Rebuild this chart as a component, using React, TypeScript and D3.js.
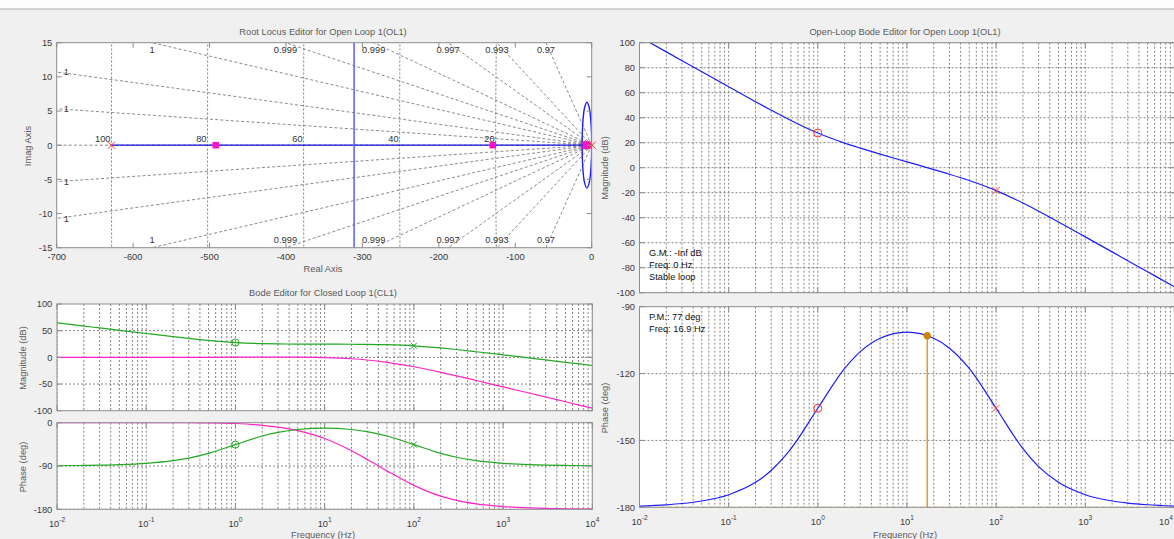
import React from "react";
import * as d3 from "d3";

// ---------- Bode data (frequency in Hz) ----------
const freqHz = [0.01, 0.02, 0.03, 0.05, 0.1, 0.2, 0.3, 0.5, 1, 2, 3, 5, 10, 20, 30, 50, 100, 200, 300, 500, 1000, 2000, 3000, 5000, 10000];

// open loop L(s)
const olMagDb = [104.7, 92.66, 85.62, 76.75, 64.74, 52.83, 45.99, 37.71, 27.71, 19.65, 15.62, 10.88, 4.7, -1.48, -5.2, -10.25, -18.31, -28.31, -34.84, -43.43, -55.34, -67.35, -74.39, -83.26, -95.3];
const olPhaseDeg = [-179.43, -178.87, -178.3, -177.17, -174.35, -168.8, -163.47, -153.72, -135.57, -117.72, -110.15, -104.17, -101.42, -104.17, -108.61, -117.72, -135.57, -153.72, -161.76, -168.8, -174.35, -177.17, -178.11, -178.86, -179.44];

// compensator C(s)
const compMagDb = [64.7, 58.68, 55.16, 50.73, 44.74, 38.85, 35.53, 31.69, 27.71, 25.67, 25.16, 24.86, 24.7, 24.54, 24.34, 23.73, 21.69, 17.71, 14.7, 10.55, 4.66, -1.33, -4.85, -9.28, -15.3];
const compPhaseDeg = [-89.43, -88.87, -88.3, -87.17, -84.35, -78.8, -73.47, -63.72, -45.57, -27.72, -20.15, -14.17, -11.42, -14.17, -18.61, -27.72, -45.57, -63.72, -71.76, -78.8, -84.35, -87.17, -88.11, -88.86, -89.44];

// closed loop T(s)
const clMagDb = [0, 0, 0, 0, 0.01, 0.02, 0.04, 0.1, 0.26, 0.39, 0.39, 0.26, -0.45, -2.61, -4.98, -9.32, -17.56, -28.01, -34.69, -43.37, -55.33, -67.35, -74.39, -83.26, -95.3];
const clPhaseDeg = [0, 0, 0, -0.01, -0.01, -0.03, -0.08, -0.33, -1.7, -5.53, -9.36, -16.57, -32.82, -58.3, -76.33, -100.1, -130.25, -152.7, -161.43, -168.7, -174.3, -177.15, -178.1, -178.86, -179.44];

// compensator zero / pole locations (Hz) and phase margin point
const compZeroHz = 1;
const compPoleHz = 100;
const pmFreqHz = 16.9;
const pmPhaseDeg = -103;

// ---------- Root locus data (rad/s) ----------
const olPoles = [-628.3, 0];
const olZeros = [-6.28];
const clPoles = [-491.9, -129.5, -6.69];
const asymptoteCenter = -310.9;
const realAxisBranch = [-628.3, -6.28];
const locusLoop: [number, number][] = [
  [0, 0], [-0.84, 3.14], [-3.14, 5.44], [-6.28, 6.28], [-9.42, 5.44], [-11.72, 3.14],
  [-12.56, 0], [-11.72, -3.14], [-9.42, -5.44], [-6.28, -6.28], [-3.14, -5.44], [-0.84, -3.14],
];
const dampingRatios = [0.999971, 0.999883, 0.99966, 0.9993, 0.99862, 0.99683, 0.99276, 0.97];
const natFreqHz = [20, 40, 60, 80, 100];

const rlXTicks = [-700, -600, -500, -400, -300, -200, -100, 0];
const rlYTicks = [15, 10, 5, 0, -5, -10, -15];
const clMagTicks = [100, 50, 0, -50, -100];
const clPhaseTicks = [0, -90, -180];
const olMagTicks = [100, 80, 60, 40, 20, 0, -20, -40, -60, -80, -100];
const olPhaseTicks = [-90, -120, -150, -180];
const decadeExps = [-2, -1, 0, 1, 2, 3, 4];

// ---------- styles ----------
const FONT = "'Liberation Sans', Arial, Helvetica, sans-serif";
const FS = 9.3;
const FRAME = "#8c8c8c";
const TICK_TXT = "#3a3a3a";
const LABEL_TXT = "#5a5a5a";
const GRID_STROKE = "#666666";
const BLUE = "#1c1cff";
const GREEN = "#22a822";
const MAGENTA = "#ff22cc";
const RED = "#ff3030";
const ORANGE = "#cc8400";
const W = 1174;

// ---------- scales ----------
const xRL = d3.scaleLinear().domain([-700, 0]).range([56.7, 591.7]);
const yRL = d3.scaleLinear().domain([-15, 15]).range([247.7, 42.7]);

const xBL = d3.scaleLog().domain([1e-2, 1e4]).range([57, 592.3]);
const yBLm = d3.scaleLinear().domain([-100, 100]).range([410.7, 304]);
const yBLp = d3.scaleLinear().domain([-180, 0]).range([509.3, 422.7]);

const xR = d3.scaleLog().domain([1e-2, 1e4]).range([639.5, 1174.4]);
const yRm = d3.scaleLinear().domain([-100, 100]).range([292.7, 42.7]);
const yRp = d3.scaleLinear().domain([-180, -90]).range([507.3, 306.7]);

function logGridValues(): number[] {
  const out: number[] = [];
  for (let e = -2; e < 4; e++) for (let k = 1; k < 10; k++) out.push(k * Math.pow(10, e));
  out.push(1e4);
  return out;
}
const logGrid = logGridValues();

type Lin = d3.ScaleLinear<number, number>;
type Log = d3.ScaleLogarithmic<number, number>;

function bodePath(x: Log, y: Lin, vals: number[]) {
  return (
    d3
      .line<number>()
      .x((_, i) => x(freqHz[i]))
      .y((v) => y(v))
      .curve(d3.curveMonotoneX)(vals) || ""
  );
}

function Panel({ id, x, y, children }: { id: string; x: any; y: Lin; children?: React.ReactNode }) {
  const [x0, x1] = x.range();
  const [yb, yt] = y.range();
  return (
    <g>
      <defs>
        <clipPath id={id}>
          <rect x={x0} y={yt} width={x1 - x0} height={yb - yt} />
        </clipPath>
      </defs>
      <rect x={x0} y={yt} width={x1 - x0} height={yb - yt} fill="#ffffff" />
      <g clipPath={`url(#${id})`}>{children}</g>
      <rect x={x0} y={yt} width={x1 - x0} height={yb - yt} fill="none" stroke={FRAME} strokeWidth={1} />
    </g>
  );
}

function LogGrid({ x, y, yGrid }: { x: Log; y: Lin; yGrid: number[] }) {
  const [x0, x1] = x.range();
  const [yb, yt] = y.range();
  return (
    <g stroke={GRID_STROKE} strokeWidth={0.8} strokeDasharray="2,2" fill="none">
      {logGrid.map((f, i) => (
        <line key={"v" + i} x1={x(f)} x2={x(f)} y1={yt} y2={yb} />
      ))}
      {yGrid.map((v, i) => (
        <line key={"h" + i} x1={x0} x2={x1} y1={y(v)} y2={y(v)} />
      ))}
    </g>
  );
}

function LogTicks({ x, y, yTicks }: { x: Log; y: Lin; yTicks: number[] }) {
  const [x0, x1] = x.range();
  const [yb, yt] = y.range();
  return (
    <g stroke={FRAME} strokeWidth={1}>
      {decadeExps.map((e) => {
        const px = x(Math.pow(10, e));
        return (
          <g key={e}>
            <line x1={px} x2={px} y1={yb} y2={yb - 5} />
            <line x1={px} x2={px} y1={yt} y2={yt + 5} />
          </g>
        );
      })}
      {yTicks.map((v) => (
        <g key={v}>
          <line x1={x0} x2={x0 + 5} y1={y(v)} y2={y(v)} />
          <line x1={x1} x2={x1 - 5} y1={y(v)} y2={y(v)} />
        </g>
      ))}
    </g>
  );
}

function YLabels({ y, ticks, xEnd }: { y: Lin; ticks: number[]; xEnd: number }) {
  return (
    <g fontFamily={FONT} fontSize={FS} fill={TICK_TXT} textAnchor="end">
      {ticks.map((v) => (
        <text key={v} x={xEnd} y={y(v) + 3.3}>
          {String(v)}
        </text>
      ))}
    </g>
  );
}

function DecadeLabels({ x, yBase }: { x: Log; yBase: number }) {
  return (
    <g fontFamily={FONT} fontSize={FS} fill={TICK_TXT}>
      {decadeExps.map((e) => {
        const px = x(Math.pow(10, e));
        // keep the last label inside the window
        const atEdge = px + 9 > W;
        return (
          <text key={e} x={atEdge ? W - 1 : px} y={yBase} textAnchor={atEdge ? "end" : "middle"}>
            10
            <tspan dy={-5} fontSize={6.6}>
              {String(e)}
            </tspan>
          </text>
        );
      })}
    </g>
  );
}

function XMark({ cx, cy, r, color }: { cx: number; cy: number; r: number; color: string }) {
  return (
    <g stroke={color} strokeWidth={1}>
      <line x1={cx - r} x2={cx + r} y1={cy - r} y2={cy + r} />
      <line x1={cx - r} x2={cx + r} y1={cy + r} y2={cy - r} />
    </g>
  );
}

function RootLocus() {
  const [x0, x1] = xRL.range();
  const [yb, yt] = yRL.range();
  const ox = xRL(0);
  const oy = yRL(0);

  // damping-ratio rays and their label anchors
  const rays = dampingRatios.map((z) => {
    const th = Math.acos(z);
    const t = Math.tan(th);
    const far = 2000;
    const xTop = -15 / t;
    const onTop = xTop >= -700;
    return {
      z,
      xEnd: -far * Math.cos(th),
      yEnd: far * Math.sin(th),
      onTop,
      lx: onTop ? xTop : -700,
      ly: onTop ? 15 : 700 * t,
      label: String(Number(z.toPrecision(3))),
    };
  });

  const loopPath = d3
    .line<[number, number]>()
    .x((d) => xRL(d[0]))
    .y((d) => yRL(d[1]))
    .curve(d3.curveCatmullRomClosed)(locusLoop) || "";

  const imagSamples = d3.range(-16, 16.01, 0.5);

  return (
    <g>
      <Panel id="clipRL" x={xRL} y={yRL}>
        {/* constant damping rays */}
        <g stroke="#6c6c6c" strokeWidth={0.8} strokeDasharray="3,2.2" fill="none">
          <line x1={ox} y1={oy} x2={xRL(-700)} y2={oy} />
          {rays.map((r, i) => (
            <g key={i}>
              <line x1={ox} y1={oy} x2={xRL(r.xEnd)} y2={yRL(r.yEnd)} />
              <line x1={ox} y1={oy} x2={xRL(r.xEnd)} y2={yRL(-r.yEnd)} />
            </g>
          ))}
        </g>
        {/* constant natural frequency arcs */}
        <g stroke="#5c5c5c" strokeWidth={0.8} strokeDasharray="2,2" fill="none">
          {natFreqHz.map((w) => {
            const rad = 2 * Math.PI * w;
            const p = d3
              .line<number>()
              .x((v) => xRL(-Math.sqrt(rad * rad - v * v)))
              .y((v) => yRL(v))(imagSamples) || "";
            return <path key={w} d={p} />;
          })}
        </g>
        {/* locus branches */}
        <g stroke={BLUE} strokeWidth={1.3} fill="none">
          <line x1={xRL(realAxisBranch[0])} x2={xRL(realAxisBranch[1])} y1={oy} y2={oy} stroke="#1010dd" />
          <line x1={xRL(asymptoteCenter)} x2={xRL(asymptoteCenter)} y1={yt - 5} y2={yb + 5} stroke="#5a5aff" strokeWidth={1.5} />
          <path d={loopPath} strokeWidth={1.4} />
        </g>
        {/* open-loop poles/zeros and closed-loop poles */}
        {olZeros.map((z, i) => (
          <circle key={"z" + i} cx={xRL(z)} cy={oy} r={3} fill="none" stroke={RED} />
        ))}
        {clPoles.map((p, i) => {
          const s = i === clPoles.length - 1 ? 8 : 6.5;
          return <rect key={"c" + i} x={xRL(p) - s / 2} y={oy - s / 2} width={s} height={s} fill="#ff10c8" />;
        })}
        {olPoles.map((p, i) => (
          <XMark key={"p" + i} cx={xRL(p)} cy={oy} r={3.5} color={RED} />
        ))}
      </Panel>
      {/* pole marker sitting on the right frame edge */}
      <XMark cx={xRL(0) + 0.5} cy={oy} r={3.5} color={RED} />

      {/* ticks */}
      <g stroke={FRAME} strokeWidth={1}>
        {rlXTicks.map((v) => (
          <g key={v}>
            <line x1={xRL(v)} x2={xRL(v)} y1={yb} y2={yb - 5} />
            <line x1={xRL(v)} x2={xRL(v)} y1={yt} y2={yt + 5} />
          </g>
        ))}
        {rlYTicks.map((v) => (
          <g key={v}>
            <line x1={x0} x2={x0 + 5} y1={yRL(v)} y2={yRL(v)} />
            <line x1={x1} x2={x1 - 5} y1={yRL(v)} y2={yRL(v)} />
          </g>
        ))}
      </g>

      {/* grid labels */}
      <g fontFamily={FONT} fontSize={FS} fill="#333">
        {rays.map((r, i) =>
          r.onTop ? (
            <g key={i} textAnchor="middle">
              <text x={xRL(r.lx)} y={yt + 10}>{r.label}</text>
              <text x={xRL(r.lx)} y={yb - 5}>{r.label}</text>
            </g>
          ) : (
            <g key={i} textAnchor="start">
              <text x={x0 + 7} y={yRL(r.ly) + 3.3}>{r.label}</text>
              <text x={x0 + 7} y={yRL(-r.ly) + 3.3}>{r.label}</text>
            </g>
          )
        )}
        {natFreqHz.map((w) => (
          <text key={w} x={xRL(-2 * Math.PI * w) - 1} y={oy - 3} textAnchor="end">
            {String(w)}
          </text>
        ))}
      </g>

      {/* axis tick labels */}
      <g fontFamily={FONT} fontSize={FS} fill={TICK_TXT} textAnchor="middle">
        {rlXTicks.map((v) => (
          <text key={v} x={xRL(v)} y={260}>
            {String(v)}
          </text>
        ))}
      </g>
      <YLabels y={yRL} ticks={rlYTicks} xEnd={52.3} />
      <text x={323} y={35} fontFamily={FONT} fontSize={FS} fill={LABEL_TXT} textAnchor="middle">
        Root Locus Editor for Open Loop 1(OL1)
      </text>
      <text x={323} y={272} fontFamily={FONT} fontSize={FS} fill={LABEL_TXT} textAnchor="middle">
        Real Axis
      </text>
      <text transform="translate(31,146) rotate(-90)" fontFamily={FONT} fontSize={FS} fill={LABEL_TXT} textAnchor="middle">
        Imag Axis
      </text>
    </g>
  );
}

function ClosedLoopBode() {
  const iz = freqHz.indexOf(compZeroHz);
  const ip = freqHz.indexOf(compPoleHz);
  return (
    <g>
      <Panel id="clipBLm" x={xBL} y={yBLm}>
        <LogGrid x={xBL} y={yBLm} yGrid={[50, 0, -50]} />
        <path d={bodePath(xBL, yBLm, clMagDb)} stroke={MAGENTA} strokeWidth={1.2} fill="none" />
        <path d={bodePath(xBL, yBLm, compMagDb)} stroke={GREEN} strokeWidth={1.2} fill="none" />
        <circle cx={xBL(compZeroHz)} cy={yBLm(compMagDb[iz])} r={3.6} fill="none" stroke={GREEN} />
        <XMark cx={xBL(compPoleHz)} cy={yBLm(compMagDb[ip])} r={3} color={GREEN} />
      </Panel>
      <LogTicks x={xBL} y={yBLm} yTicks={clMagTicks} />
      <Panel id="clipBLp" x={xBL} y={yBLp}>
        <LogGrid x={xBL} y={yBLp} yGrid={[-90, -180]} />
        <path d={bodePath(xBL, yBLp, clPhaseDeg)} stroke={MAGENTA} strokeWidth={1.2} fill="none" />
        <path d={bodePath(xBL, yBLp, compPhaseDeg)} stroke={GREEN} strokeWidth={1.2} fill="none" />
        <circle cx={xBL(compZeroHz)} cy={yBLp(compPhaseDeg[iz])} r={3.6} fill="none" stroke={GREEN} />
        <XMark cx={xBL(compPoleHz)} cy={yBLp(compPhaseDeg[ip])} r={3} color={GREEN} />
      </Panel>
      <LogTicks x={xBL} y={yBLp} yTicks={clPhaseTicks} />
      <YLabels y={yBLm} ticks={clMagTicks} xEnd={52.3} />
      <YLabels y={yBLp} ticks={clPhaseTicks} xEnd={52.3} />
      <DecadeLabels x={xBL} yBase={527} />
      <text x={323} y={296} fontFamily={FONT} fontSize={FS} fill={LABEL_TXT} textAnchor="middle">
        Bode Editor for Closed Loop 1(CL1)
      </text>
      <text x={323} y={537.5} fontFamily={FONT} fontSize={FS} fill={LABEL_TXT} textAnchor="middle">
        Frequency (Hz)
      </text>
      <text transform="translate(26,358) rotate(-90)" fontFamily={FONT} fontSize={FS} fill={LABEL_TXT} textAnchor="middle">
        Magnitude (dB)
      </text>
      <text transform="translate(26,467) rotate(-90)" fontFamily={FONT} fontSize={FS} fill={LABEL_TXT} textAnchor="middle">
        Phase (deg)
      </text>
    </g>
  );
}

function OpenLoopBode() {
  const iz = freqHz.indexOf(compZeroHz);
  const ip = freqHz.indexOf(compPoleHz);
  return (
    <g>
      <Panel id="clipRm" x={xR} y={yRm}>
        <LogGrid x={xR} y={yRm} yGrid={olMagTicks} />
        <path d={bodePath(xR, yRm, olMagDb)} stroke={BLUE} strokeWidth={1.2} fill="none" />
        <circle cx={xR(compZeroHz)} cy={yRm(olMagDb[iz])} r={4} fill="none" stroke={RED} />
        <XMark cx={xR(compPoleHz)} cy={yRm(olMagDb[ip])} r={3.5} color={RED} />
        <g fontFamily={FONT} fontSize={FS} fill="#111">
          <text x={649} y={256}>G.M.: -Inf dB</text>
          <text x={649} y={268.3}>Freq: 0 Hz</text>
          <text x={649} y={280}>Stable loop</text>
        </g>
      </Panel>
      <LogTicks x={xR} y={yRm} yTicks={olMagTicks} />
      <Panel id="clipRp" x={xR} y={yRp}>
        <LogGrid x={xR} y={yRp} yGrid={[-120, -150]} />
        <line x1={xR.range()[0]} x2={xR.range()[1]} y1={yRp(-180)} y2={yRp(-180)} stroke={ORANGE} strokeWidth={1} strokeDasharray="4,3" />
        <path d={bodePath(xR, yRp, olPhaseDeg)} stroke={BLUE} strokeWidth={1.2} fill="none" />
        <line x1={xR(pmFreqHz)} x2={xR(pmFreqHz)} y1={yRp(pmPhaseDeg)} y2={yRp(-180)} stroke="#e0a030" strokeWidth={1.6} />
        <circle cx={xR(pmFreqHz)} cy={yRp(pmPhaseDeg)} r={3.6} fill={ORANGE} />
        <circle cx={xR(compZeroHz)} cy={yRp(olPhaseDeg[iz])} r={4} fill="none" stroke={RED} />
        <XMark cx={xR(compPoleHz)} cy={yRp(olPhaseDeg[ip])} r={3.5} color={RED} />
        <g fontFamily={FONT} fontSize={FS} fill="#111">
          <text x={649} y={320}>P.M.: 77 deg</text>
          <text x={649} y={332.3}>Freq: 16.9 Hz</text>
        </g>
      </Panel>
      <LogTicks x={xR} y={yRp} yTicks={olPhaseTicks} />
      <YLabels y={yRm} ticks={olMagTicks} xEnd={635} />
      <YLabels y={yRp} ticks={olPhaseTicks} xEnd={635} />
      <DecadeLabels x={xR} yBase={525} />
      <text x={905} y={35} fontFamily={FONT} fontSize={FS} fill={LABEL_TXT} textAnchor="middle">
        Open-Loop Bode Editor for Open Loop 1(OL1)
      </text>
      <text x={905} y={537.5} fontFamily={FONT} fontSize={FS} fill={LABEL_TXT} textAnchor="middle">
        Frequency (Hz)
      </text>
      <text transform="translate(608,168) rotate(-90)" fontFamily={FONT} fontSize={FS} fill={LABEL_TXT} textAnchor="middle">
        Magnitude (dB)
      </text>
      <text transform="translate(608,408) rotate(-90)" fontFamily={FONT} fontSize={FS} fill={LABEL_TXT} textAnchor="middle">
        Phase (deg)
      </text>
    </g>
  );
}

export default function App() {
  return (
    <svg
      width={1174}
      height={539}
      viewBox="0 0 1174 539"
      style={{ position: "absolute", left: 0, top: 0, display: "block" }}
    >
      <rect x={0} y={0} width={1174} height={539} fill="#f0f0f0" />
      <rect x={0} y={0} width={1174} height={8} fill="#fdfdfd" />
      <line x1={0} x2={1174} y1={9} y2={9} stroke="#d2d2d2" strokeWidth={2} />
      <RootLocus />
      <ClosedLoopBode />
      <OpenLoopBode />
    </svg>
  );
}
